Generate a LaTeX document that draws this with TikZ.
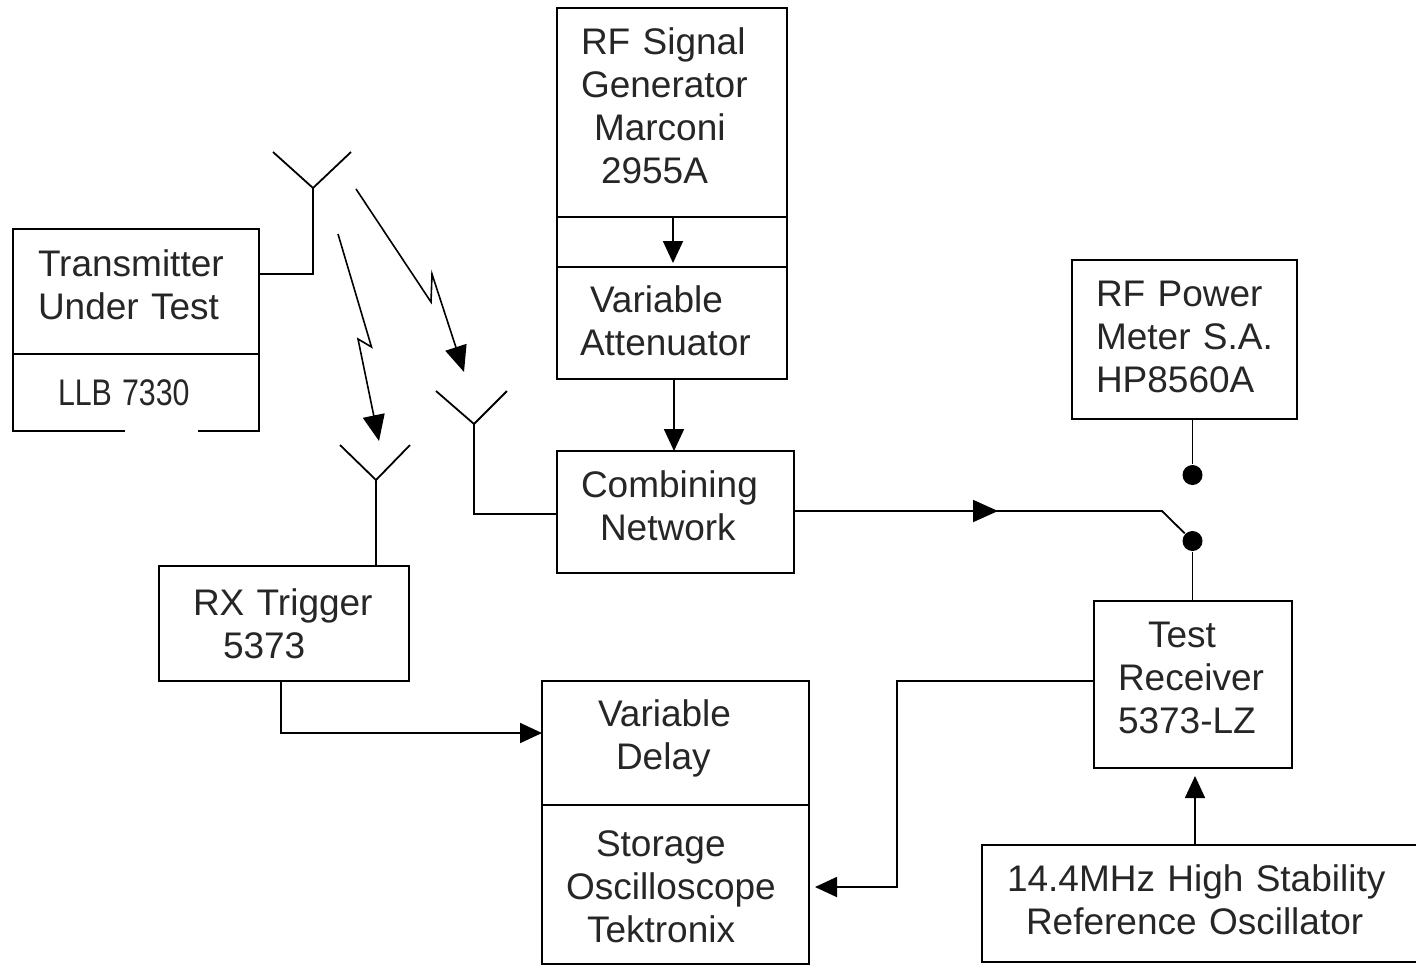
\documentclass[tikz,border=0pt]{standalone}
\usepackage{fontspec}
\usepackage{graphicx}
\setmainfont{Liberation Sans}
\usetikzlibrary{arrows.meta}
\newcommand{\lift}[1]{\rule[-#1pt]{0pt}{#1pt}}

\begin{document}
\begin{tikzpicture}[x=0.5pt, y=-0.5pt,
      line width=0.9pt,
      box/.style={draw, anchor=north west, align=left, inner ysep=0pt, outer sep=0pt,
                  font=\fontsize{18.5}{21.5}\selectfont, text=black!85},
      arr/.style={-{Triangle[length=11pt, width=10pt]}},
      wave/.style={-{Triangle[length=13pt, width=11pt]}, line width=0.8pt},
      dot/.style={circle, fill, inner sep=0pt, minimum size=10pt}]
    \useasboundingbox (0,0) rectangle (1423,966);
    % boxes
    \node[box, inner xsep=12pt, text width=91pt, minimum height=104.5pt] (rfgen) at (557,8)
      {RF Signal\\Generator\\\hspace*{6.5pt}Marconi\\\hspace*{10pt}2955A\lift{7}};
    \node[box, minimum width=115pt, minimum height=25pt] (link) at (557,217) {};
    \node[box, inner xsep=11.5pt, text width=92pt, minimum height=56pt] (atten) at (557,267)
      {\hspace*{5pt}Variable\\Attenuator\lift{2}};
    \node[box, inner xsep=12.5pt, text width=98pt, minimum height=62.5pt] (txm) at (13,229)
      {Transmitter\\Under Test\lift{7}};
    \node[box, draw=none, inner xsep=22.5pt, text width=78pt, minimum height=38.5pt] (llb) at (13,354)
      {\scalebox{0.82}[1]{LLB 7330}};
    \node[box, inner xsep=17pt, text width=91pt, minimum height=57.5pt] (rxtrig) at (159,566)
      {RX Trigger\\\hspace*{15pt}5373};
    \node[box, inner xsep=12pt, text width=94.5pt, minimum height=61pt] (combine) at (557,451)
      {Combining\\\hspace*{9.5pt}Network\lift{6}};
    \node[box, inner xsep=28pt, text width=77.5pt, minimum height=62pt] (vdelay) at (542,681)
      {Variable\\\hspace*{9pt}Delay\lift{8}};
    \node[box, inner xsep=12pt, text width=109.5pt, minimum height=79.5pt] (scope) at (542,805)
      {\rule{0pt}{15.5pt}\hspace*{15pt}Storage\\Oscilloscope\\\hspace*{10.5pt}Tektronix};
    \node[box, inner xsep=12pt, text width=88.5pt, minimum height=79.5pt] (rfpwr) at (1072,260)
      {RF Power\\Meter S.A.\\HP8560A\lift{3}};
    \node[box, inner xsep=12pt, text width=75pt, minimum height=83.5pt] (recv) at (1094,601)
      {\hspace*{15pt}Test\\Receiver\\5373-LZ\lift{6.5}};
    \node[box, draw=none, inner xsep=12.5pt, text width=192pt, minimum height=58.5pt] (refosc) at (982,845)
      {14.4MHz High Stability\\\hspace*{9.5pt}Reference Oscillator\lift{3.5}};
    % the reference box runs off the right edge
    \draw (refosc.north east) -- (refosc.north west) -- (refosc.south west) -- (refosc.south east);
    % lower part of the transmitter, open at the bottom
    \draw (llb.north west) -- (llb.south west) -- ++(112,0);
    \draw (llb.north east) -- (llb.south east) -- ++(-61,0);
    % antennas
    \coordinate (txant) at (313,188);
    \coordinate (rxant) at (376,480);
    \coordinate (cbant) at (474,424);
    \draw (273,152) -- (txant) -- (351,152);
    \draw (340,445) -- (rxant) -- (410,445);
    \draw (436,391) -- (cbant) -- (507,391);
    \draw (txant) |- (txm.east |- 0,274);
    \draw (rxant) -- (rxant |- rxtrig.north);
    \draw (cbant) |- (combine.west |- 0,514);
    % radio paths
    \draw[wave] (338,234) -- (371.5,347) -- (358,339) -- (379,441);
    \draw[wave] (356,189) -- (431,302) -- (432,274) -- (464,372);
    % switch
    \node[dot] (swa) at (1192.5,475) {};
    \node[dot] (swb) at (1192.5,541) {};
    \draw (rfpwr.south -| swa) -- (swa);
    \draw (recv.north -| swb) -- (swb);
    \coordinate (bend) at (1162,511);
    \coordinate (mid) at (998,511);
    \coordinate (midb) at (985,511);
    \draw[-{Triangle[length=12.5pt, width=11pt]}] (combine.east |- bend) -- (mid);
    \draw (midb) -- (bend) -- (swb);
    % connectors
    \draw[arr, shorten >=2pt] (link.north -| 673,0) -- (link.south -| 673,0);
    \draw[arr] (atten.south -| 674,0) -- (combine.north -| 674,0);
    \draw[arr] (rxtrig.south -| 281,0) |- (vdelay.west |- 0,733);
    \draw[arr] (recv.west |- 0,681) -- (897,681) |- (815,887);
    \draw[arr, shorten >=4pt] (refosc.north -| 1195,0) -- (recv.south -| 1195,0);
\end{tikzpicture}
\end{document}
